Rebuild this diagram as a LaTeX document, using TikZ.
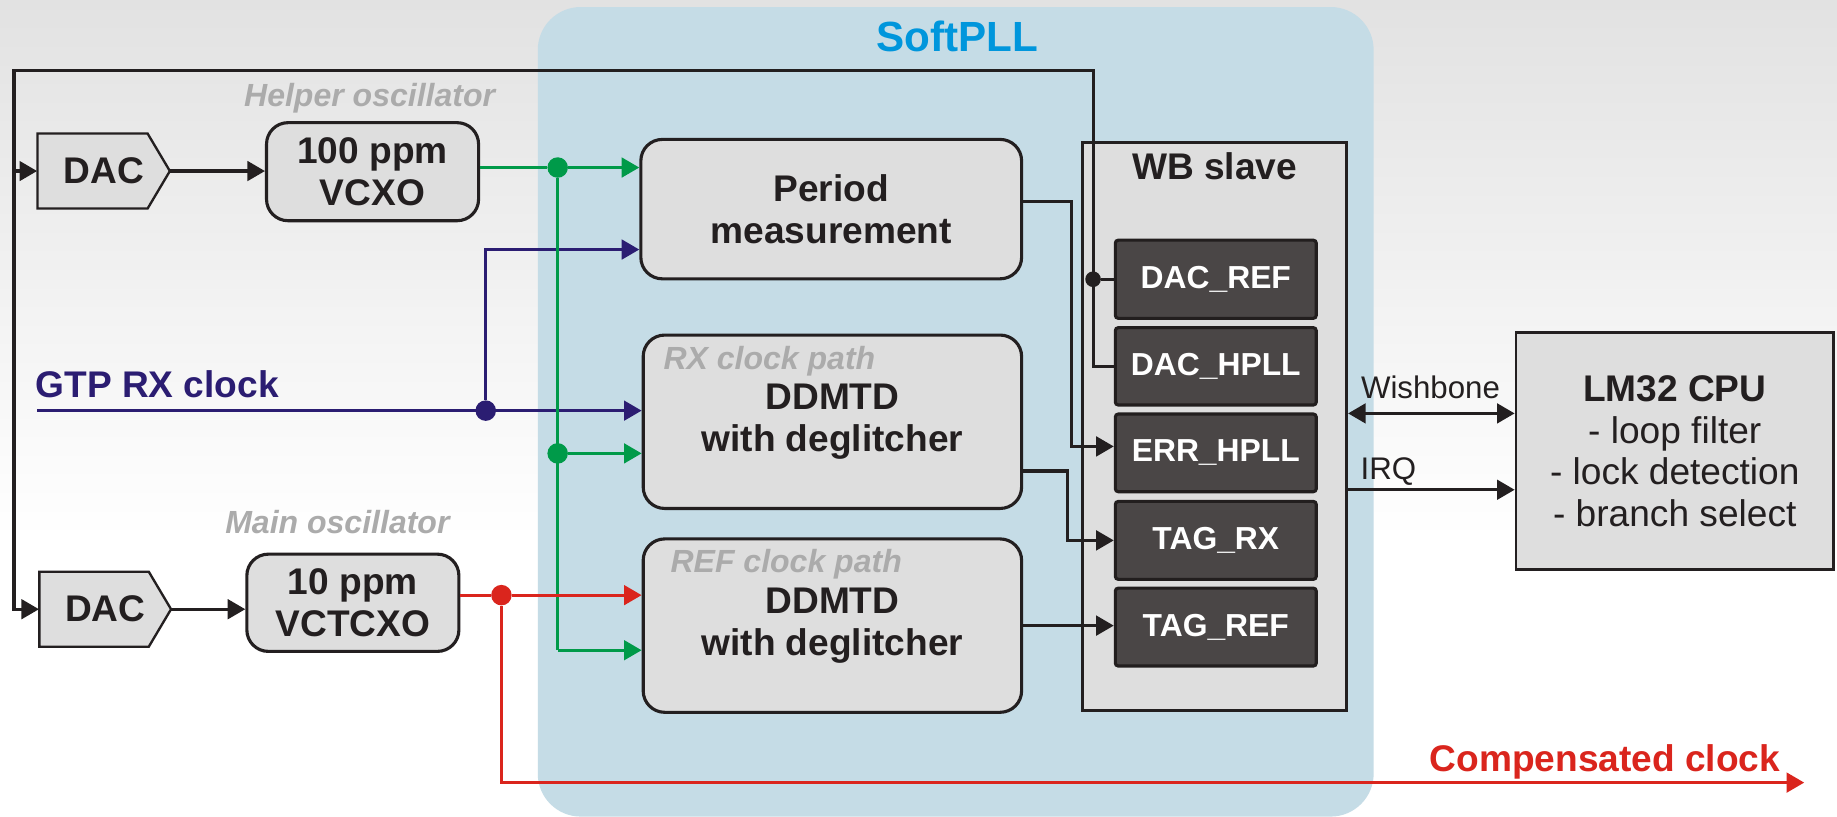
\documentclass[tikz,border=0pt]{standalone}
\usepackage{fontspec}
\setmainfont{Liberation Sans}
\usetikzlibrary{arrows.meta}
\definecolor{bgtop}{HTML}{E2E2E2}
\definecolor{panelc}{HTML}{C5DCE6}
\definecolor{titlec}{HTML}{0096DC}
\definecolor{boxfill}{HTML}{DEDEDE}
\definecolor{bord}{HTML}{231F20}
\definecolor{regfill}{HTML}{4A4646}
\definecolor{regbord}{HTML}{221E1E}
\definecolor{labgray}{HTML}{ABABAB}
\definecolor{grn}{HTML}{009A49}
\definecolor{nav}{HTML}{2B1D72}
\definecolor{rd}{HTML}{DA251D}
\newcommand\mkbox[7]{%
  \node[#2, minimum width={(#5-#3)*0.6pt}, minimum height={(#6-#4)*0.6pt}] (#1) at ({(#3+#5)/2},{(#4+#6)/2}) {#7};}
\tikzset{
  bigb/.style={font=\fontsize{19}{21.3}\selectfont\bfseries, text=bord, align=center},
  rbox/.style={draw=bord, line width=1.6pt, fill=boxfill, rounded corners=11pt, inner sep=0pt, bigb},
  sbox/.style={draw=bord, line width=1.4pt, fill=boxfill, inner sep=0pt},
  reg/.style={draw=regbord, line width=1.6pt, fill=regfill, rounded corners=1.5pt, inner sep=0pt, text=white, font=\fontsize{16.3}{18}\selectfont\bfseries},
  glabel/.style={font=\fontsize{16.4}{18}\selectfont\bfseries\itshape, text=labgray, inner sep=0pt},
  plain/.style={font=\fontsize{16}{18}\selectfont, text=bord, inner sep=0pt},
  conn/.style={line width=1.6pt, draw=bord},
  cline/.style={line width=1.6pt},
  arr/.style={-{Triangle[length=9pt,width=10pt]}},
  dotc/.style={circle, inner sep=0pt, minimum size=10.5pt},
  bdot/.style={circle, inner sep=0pt, minimum size=8pt, fill=bord},
}
\begin{document}
\begin{tikzpicture}[x=0.6pt,y=-0.6pt]
\useasboundingbox (0,0) rectangle (1568,697);
% background
\shade[top color=bgtop, bottom color=white] (0,0) rectangle (1568,460);
\fill[white] (0,460) rectangle (1568,697);
% SoftPLL panel
\mkbox{panel}{fill=panelc, rounded corners=22pt, inner sep=0pt}{459}{6}{1172.5}{697}{}
\node[font=\fontsize{21.6}{24}\selectfont\bfseries, text=titlec, anchor=base, inner sep=0pt] (ttl) at (817,44) {SoftPLL};

% DAC pentagons
\draw[line width=1.2pt, draw=bord, fill=boxfill] (32,114) -- (126,114) -- (145,146) -- (126,178) -- (32,178) -- cycle;
\node[bigb, inner sep=0pt, minimum width={113*0.6pt}, minimum height={64*0.6pt}] (dacH) at (88.5,146) {DAC};
\draw[line width=1.2pt, draw=bord, fill=boxfill] (33.6,488) -- (127,488) -- (146,520) -- (127,552) -- (33.6,552) -- cycle;
\node[bigb, inner sep=0pt, minimum width={112.4*0.6pt}, minimum height={64*0.6pt}] (dacM) at (89.8,520) {DAC};

% oscillators
\mkbox{vcxo}{rbox}{227.5}{104.7}{408.5}{188.4}{100 ppm\\VCXO}
\mkbox{vctcxo}{rbox}{210.7}{473}{391.7}{556}{10 ppm\\VCTCXO}
\node[glabel, anchor=base] (helper) at (315.5,91) {Helper oscillator};
\node[glabel, anchor=base] (mainosc) at (288,455) {Main oscillator};

% SoftPLL blocks
\mkbox{period}{rbox}{547}{119}{872}{238}{Period\\measurement}
\mkbox{rx}{rbox}{549}{286}{872}{434}{DDMTD\\with deglitcher}
\mkbox{ref}{rbox}{549}{460}{872}{608}{DDMTD\\with deglitcher}
\node[glabel, anchor=base west] (rxlab) at (566,315) {RX clock path};
\node[glabel, anchor=base west] (reflab) at (572,489) {REF clock path};

% WB slave
\mkbox{wb}{sbox}{924}{121.8}{1149.5}{606.6}{}
\node[bigb, anchor=base, inner sep=0pt] (wbt) at (1036.7,153.6) {WB slave};
\mkbox{dacref}{reg}{952}{205}{1123.5}{271.7}{DAC\_REF}
\mkbox{dachpll}{reg}{952}{279.7}{1123.5}{345.7}{DAC\_HPLL}
\mkbox{errhpll}{reg}{952}{353.4}{1123.5}{419.7}{ERR\_HPLL}
\mkbox{tagrx}{reg}{952}{428}{1123.5}{494.5}{TAG\_RX}
\mkbox{tagref}{reg}{952}{502}{1123.5}{568.5}{TAG\_REF}

% CPU
\mkbox{cpu}{sbox, font=\fontsize{19}{21.3}\selectfont, text=bord, align=center}{1294}{284}{1565}{486}{\textbf{LM32 CPU}\\- loop filter\\- lock detection\\- branch select}

% labels
\node[bigb, text=nav, anchor=base west, inner sep=0pt] (gtp) at (30,339) {GTP RX clock};
\node[bigb, text=rd, anchor=base west, inner sep=0pt] (comp) at (1220,658.6) {Compensated clock};
\node[plain, anchor=base] (wbl) at (1221,340) {Wishbone};
\node[plain, anchor=base west] (irql) at (1161,409.7) {IRQ};

% feedback (black)
\coordinate (fbR) at (933,60);
\coordinate (fbL) at (12,60);
\draw[conn, arr] (dachpll.west) -| (fbR) -- (fbL) |- (dacM.west);
\draw[conn, arr] (fbL) |- (dacH.west);
\node[bdot] (d1) at (dacref.west -| fbR) {};
\draw[conn] (d1) -- (dacref.west);
\draw[conn, arr] (dacH.east) -- (dacH.east -| vcxo.west);
\draw[conn, arr] (dacM.east) -- (dacM.east -| vctcxo.west);

% outputs to registers
\draw[conn, arr] ([yshift=3.9pt]period.east) -- ++(41,0) |- ([yshift=3.3pt]errhpll.west);
\draw[conn, arr] ([yshift=-25.2pt]rx.east) -- ++(38,0) |- (tagrx.west);
\draw[conn, arr] (ref.east) -- (ref.east -| tagref.west);

% wishbone / IRQ
\coordinate (wbA) at ([yshift=6.8pt]wb.east);
\coordinate (irqA) at ([yshift=-32.3pt]wb.east);
\draw[conn, {Triangle[length=9pt,width=10pt]}-{Triangle[length=9pt,width=10pt]}] (wbA) -- (wbA -| cpu.west);
\draw[conn, arr] (irqA) -- (irqA -| cpu.west);

% navy GTP RX clock
\coordinate (n0) at (32,350.5);
\node[dotc, fill=nav] (n1) at (414.6,350.5) {};
\draw[cline, nav, arr] (n0) -- (n0 -| rx.west);
\draw[cline, nav, arr] (n1) |- ([yshift=-20.7pt]period.west);

% green helper clock
\node[dotc, fill=grn] (g1) at (476,143) {};
\node[dotc, fill=grn] (g2) at (476,387) {};
\coordinate (g3) at (476,555);
\draw[cline, grn] (vcxo.east |- g1) -- (g1);
\draw[cline, grn] (g1) -- (g3);
\draw[cline, grn, arr] (g1) -- (g1 -| period.west);
\draw[cline, grn, arr] (g2) -- (g2 -| rx.west);
\draw[cline, grn, arr] (g3) -- (g3 -| ref.west);

% red main clock
\node[dotc, fill=rd] (r1) at (428,508) {};
\coordinate (cc) at (1540,668);
\draw[cline, rd] (vctcxo.east |- r1) -- (r1);
\draw[cline, rd, arr] (r1) -- (r1 -| ref.west);
\draw[cline, rd, arr] (r1) |- (cc);
\end{tikzpicture}
\end{document}
